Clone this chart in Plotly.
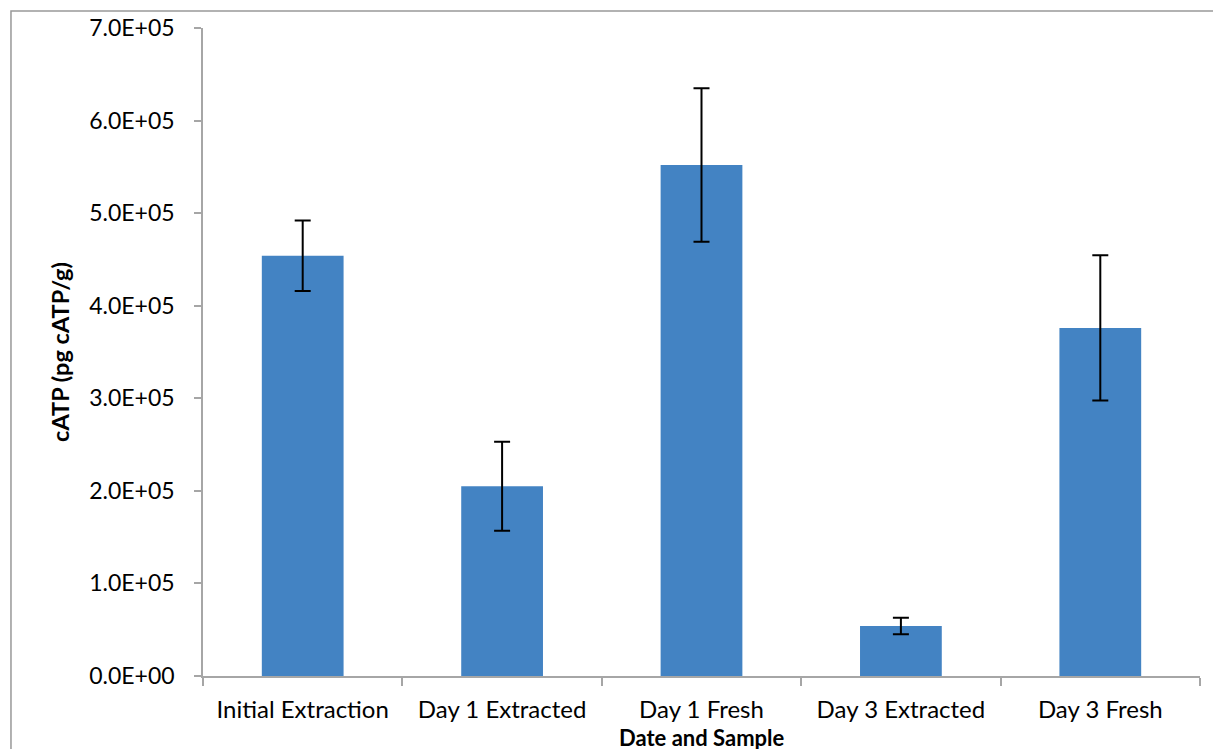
import plotly.graph_objects as go

categories = ["Initial Extraction", "Day 1 Extracted", "Day 1 Fresh", "Day 3 Extracted", "Day 3 Fresh"]
values = [4.54e5, 2.05e5, 5.52e5, 0.54e5, 3.76e5]
errors = [0.38e5, 0.48e5, 0.83e5, 0.09e5, 0.785e5]
y_ticks = [0, 1e5, 2e5, 3e5, 4e5, 5e5, 6e5, 7e5]
y_tick_labels = [f"{v:.1E}" for v in y_ticks]
x_title = "Date and Sample"
y_title = "cATP (pg cATP/g)"

font_family = "Lato, Open Sans, sans-serif"
axis_color = "#A6A6A6"

fig = go.Figure()
fig.add_trace(go.Bar(
    x=categories,
    y=values,
    width=0.41,
    marker=dict(color="#4383C3", line=dict(width=0)),
    error_y=dict(type="data", array=errors, visible=True, color="black", thickness=2, width=8),
))

fig.update_layout(
    width=1221, height=749,
    margin=dict(l=195, r=29, t=20, b=81),
    paper_bgcolor="white", plot_bgcolor="white",
    showlegend=False,
    font=dict(family=font_family, color="black", size=23),
    xaxis=dict(
        automargin=False,
        showline=True, linecolor=axis_color, linewidth=1.5,
        ticks="outside", tickson="boundaries", ticklen=8, tickcolor=axis_color, tickwidth=1.5,
        tickfont=dict(size=24), ticklabelstandoff=11,
    ),
    yaxis=dict(
        automargin=False,
        range=[0, 7e5],
        tickvals=y_ticks, ticktext=y_tick_labels,
        showline=True, linecolor=axis_color, linewidth=1.5,
        ticks="outside", ticklen=7, tickcolor=axis_color, tickwidth=1.5,
        showgrid=False, zeroline=False,
        tickfont=dict(size=23), ticklabelstandoff=15,
        title=dict(text=f"<b>{y_title}</b>", font=dict(size=23.5), standoff=13),
    ),
    annotations=[dict(
        text=f"<b>{x_title}</b>", xref="paper", yref="paper", x=0.5, y=-0.095,
        xanchor="center", yanchor="middle", showarrow=False, font=dict(size=22),
    )],
    shapes=[dict(
        type="rect", xref="paper", yref="paper",
        x0=-0.1926, x1=1.2, y0=-0.3, y1=1.0262,
        line=dict(color="#999999", width=1.5), fillcolor="rgba(0,0,0,0)", layer="below",
    )],
)

fig.write_html("out.html")
